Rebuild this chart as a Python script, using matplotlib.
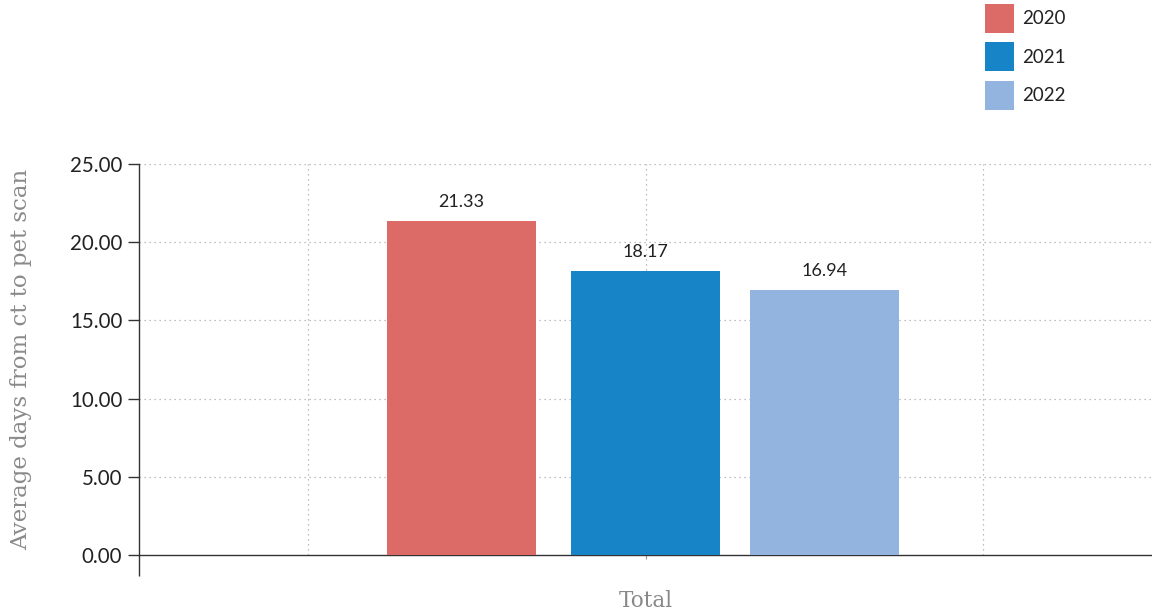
import numpy as np
import matplotlib
matplotlib.use("Agg")
import matplotlib.pyplot as plt
from matplotlib.patches import Patch

years = ["2020", "2021", "2022"]
values = [21.33, 18.17, 16.94]
colors = ["#dc6b68", "#1684c6", "#93b4df"]
category = "Total"
yticks = [0, 5, 10, 15, 20, 25]

plt.rcParams['font.family'] = ['Lato', 'DejaVu Sans']

fig = plt.figure(figsize=(11.52, 6.13), dpi=100)
ax = fig.add_axes([139 / 1152, 1 - 555 / 613, 1 - 139 / 1152, (555 - 164) / 613])

offsets = [-0.545, 0.0, 0.53]
width = 0.44
for off, v, c in zip(offsets, values, colors):
    ax.bar(off, v, width=width, color=c, zorder=3)
    ax.text(off, v + 0.7, f"{v:.2f}", ha="center", va="bottom",
            fontsize=13, color="#222222", zorder=4)

ax.set_xlim(-1.5, 1.5)
ax.set_ylim(0, 25)

# dotted grid
for yv in yticks[1:]:
    ax.axhline(yv, color="#aaaaaa", linestyle=(0, (1, 3)), linewidth=0.9, zorder=1)
for xv in [-1, 0, 1]:
    ax.axvline(xv, color="#aaaaaa", linestyle=(0, (1, 3)), linewidth=0.9, zorder=1)

for s in ["top", "right"]:
    ax.spines[s].set_visible(False)
for s in ["left", "bottom"]:
    ax.spines[s].set_color("#333333")
    ax.spines[s].set_linewidth(1.0)

ax.set_yticks(yticks)
ax.set_yticklabels([f"{t:.2f}" for t in yticks], fontsize=14.8, color="#222222")
ax.tick_params(axis="y", length=8, width=1, color="#333333", pad=4)

ax.set_xticks([0])
ax.set_xticklabels([category], fontsize=15.5, color="#888888", family="DejaVu Serif")
ax.tick_params(axis="x", which="major", length=3, width=0.8, color="#999999", pad=22)
ax.set_xticks([-1.5], minor=True)
ax.tick_params(axis="x", which="minor", length=15, width=1, color="#333333")

ax.set_ylabel("Average days from ct to pet scan", fontsize=16.5, color="#8a8a8a",
              family="DejaVu Serif", labelpad=27)

handles = [Patch(facecolor=c, edgecolor="none") for c in colors]
fig.legend(handles, years, loc="upper left", bbox_to_anchor=(983 / 1152, 1 - 2 / 613),
           frameon=False, fontsize=13.5, handlelength=1.55, handleheight=2.0,
           handletextpad=0.45, labelspacing=0.5, labelcolor="#222222",
           borderaxespad=0, borderpad=0.1)

fig.savefig("out.png", dpi=100)
